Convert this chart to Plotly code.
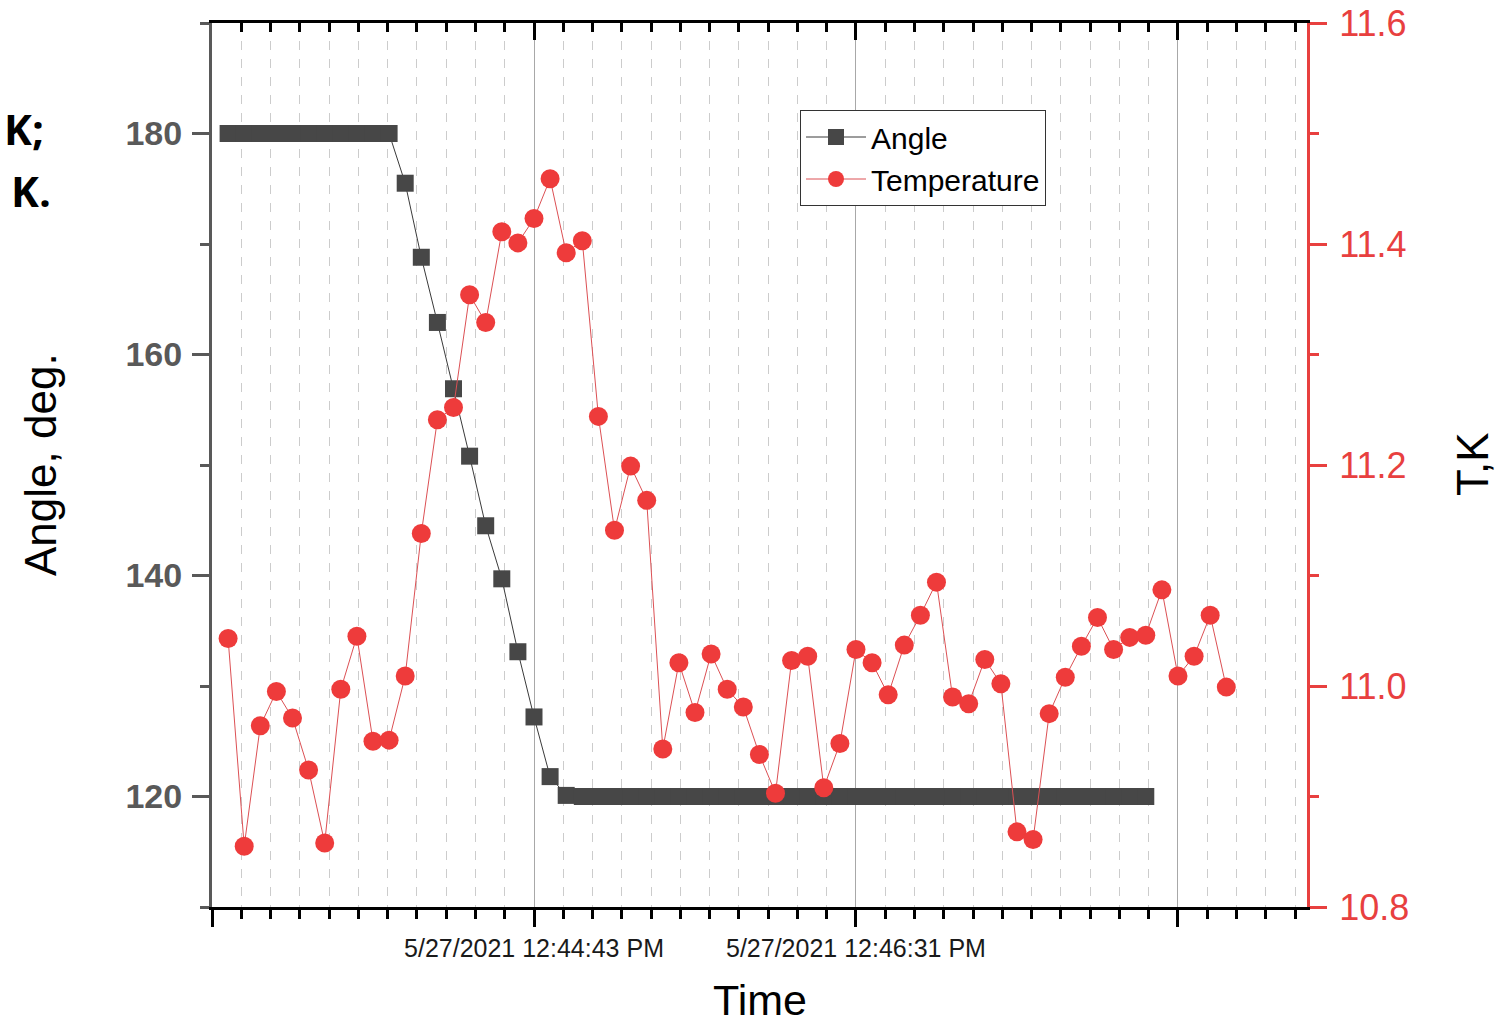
import plotly.graph_objects as go

# ---- data ----
time = [
    "2021-05-27 12:43:00.4", "2021-05-27 12:43:05.8", "2021-05-27 12:43:11.2", "2021-05-27 12:43:16.6",
    "2021-05-27 12:43:22.0", "2021-05-27 12:43:27.4", "2021-05-27 12:43:32.8", "2021-05-27 12:43:38.2",
    "2021-05-27 12:43:43.6", "2021-05-27 12:43:49.0", "2021-05-27 12:43:54.4", "2021-05-27 12:43:59.8",
    "2021-05-27 12:44:05.2", "2021-05-27 12:44:10.6", "2021-05-27 12:44:16.0", "2021-05-27 12:44:21.4",
    "2021-05-27 12:44:26.8", "2021-05-27 12:44:32.2", "2021-05-27 12:44:37.6", "2021-05-27 12:44:43.0",
    "2021-05-27 12:44:48.4", "2021-05-27 12:44:53.8", "2021-05-27 12:44:59.2", "2021-05-27 12:45:04.6",
    "2021-05-27 12:45:10.0", "2021-05-27 12:45:15.4", "2021-05-27 12:45:20.8", "2021-05-27 12:45:26.2",
    "2021-05-27 12:45:31.6", "2021-05-27 12:45:37.0", "2021-05-27 12:45:42.4", "2021-05-27 12:45:47.8",
    "2021-05-27 12:45:53.2", "2021-05-27 12:45:58.6", "2021-05-27 12:46:04.0", "2021-05-27 12:46:09.4",
    "2021-05-27 12:46:14.8", "2021-05-27 12:46:20.2", "2021-05-27 12:46:25.6", "2021-05-27 12:46:31.0",
    "2021-05-27 12:46:36.4", "2021-05-27 12:46:41.8", "2021-05-27 12:46:47.2", "2021-05-27 12:46:52.6",
    "2021-05-27 12:46:58.0", "2021-05-27 12:47:03.4", "2021-05-27 12:47:08.8", "2021-05-27 12:47:14.2",
    "2021-05-27 12:47:19.6", "2021-05-27 12:47:25.0", "2021-05-27 12:47:30.4", "2021-05-27 12:47:35.8",
    "2021-05-27 12:47:41.2", "2021-05-27 12:47:46.6", "2021-05-27 12:47:52.0", "2021-05-27 12:47:57.4",
    "2021-05-27 12:48:02.8", "2021-05-27 12:48:08.2", "2021-05-27 12:48:13.6", "2021-05-27 12:48:19.0",
    "2021-05-27 12:48:24.4", "2021-05-27 12:48:29.8", "2021-05-27 12:48:35.2",
]

angle = [
    180, 180, 180, 180, 180, 180, 180, 180, 180, 180, 180,
    175.5, 168.8, 162.9, 156.9, 150.8, 144.5, 139.7, 133.1, 127.2, 121.8, 120.1,
    120, 120, 120, 120, 120, 120, 120, 120, 120, 120, 120, 120, 120, 120, 120, 120, 120, 120,
    120, 120, 120, 120, 120, 120, 120, 120, 120, 120, 120, 120, 120, 120, 120, 120, 120, 120,
]
angle_time = time[:len(angle)]

temperature = [
    11.043, 10.855, 10.964, 10.995, 10.971, 10.924, 10.858, 10.997, 11.045, 10.950,
    10.951, 11.009, 11.138, 11.241, 11.252, 11.354, 11.329, 11.411, 11.401, 11.423,
    11.459, 11.392, 11.403, 11.244, 11.141, 11.199, 11.168, 10.943, 11.021, 10.976,
    11.029, 10.997, 10.981, 10.938, 10.903, 11.023, 11.027, 10.908, 10.948, 11.033,
    11.021, 10.992, 11.037, 11.064, 11.094, 10.990, 10.984, 11.024, 11.002, 10.868,
    10.861, 10.975, 11.008, 11.036, 11.062, 11.033, 11.044, 11.046, 11.087, 11.009,
    11.027, 11.064, 10.999,
]

x_range = ["2021-05-27 12:42:55", "2021-05-27 12:49:02.27"]
x_tickvals = ["2021-05-27 12:42:55", "2021-05-27 12:44:43", "2021-05-27 12:46:31", "2021-05-27 12:48:19"]
x_ticktext = ["", "5/27/2021 12:44:43 PM", "5/27/2021 12:46:31 PM", ""]
x_minor_step_ms = 108000 / 11

angle_ticks = [120, 140, 160, 180]
temp_ticks = [10.8, 11.0, 11.2, 11.4, 11.6]

RED = "#E8403F"
AXGRAY = "#595959"
FONT = "Liberation Sans"

fig = go.Figure()
fig.add_trace(go.Scatter(
    x=angle_time, y=angle, name="Angle", mode="lines+markers",
    marker=dict(symbol="square", size=17, color="#474747", line=dict(width=0)),
    line=dict(color="#3a3a3a", width=1),
    xaxis="x", yaxis="y",
))
fig.add_trace(go.Scatter(
    x=time, y=temperature, name="Temperature", mode="lines+markers",
    marker=dict(symbol="circle", size=19, color="#EE3B3B", line=dict(width=0)),
    line=dict(color="#DC5054", width=1),
    xaxis="x", yaxis="y2",
))
# invisible companion trace so the mirrored top axis is drawn
fig.add_trace(go.Scatter(
    x=time, y=temperature, mode="markers", marker=dict(opacity=0),
    showlegend=False, hoverinfo="skip", xaxis="x2", yaxis="y2",
))

W, H = 1512, 1028
L, R, T, B = 212, 1307, 23, 907
pw, ph = R - L, B - T


def px(x):
    return (x - L) / pw


def py(y):
    return (B - y) / ph


fig.update_layout(
    width=W, height=H, autosize=False,
    margin=dict(l=L, r=W - R, t=T, b=H - B, autoexpand=False),
    paper_bgcolor="white", plot_bgcolor="white",
    font=dict(family=FONT, color="black"),
    xaxis=dict(
        type="date", range=x_range, tickmode="array", tickvals=x_tickvals, ticktext=x_ticktext,
        ticks="outside", ticklen=17, tickwidth=3, tickcolor="black",
        showline=True, linecolor="black", linewidth=3,
        showgrid=True, gridcolor="#a8a8a8", gridwidth=1, zeroline=False,
        tickfont=dict(size=25, color="#1a1a1a", family=FONT),
        automargin=False,
        minor=dict(tickmode="linear", tick0=x_tickvals[0], dtick=x_minor_step_ms,
                   ticks="outside", ticklen=9, tickwidth=3, tickcolor="black",
                   showgrid=True, gridcolor="#cccccc", griddash="dash", gridwidth=1),
    ),
    xaxis2=dict(
        type="date", range=x_range, overlaying="x", side="top", anchor="y",
        tickmode="array", tickvals=x_tickvals, showticklabels=False,
        ticks="inside", ticklen=17, tickwidth=3, tickcolor="black",
        showline=True, linecolor="black", linewidth=3, showgrid=False, zeroline=False,
        automargin=False,
        minor=dict(tickmode="linear", tick0=x_tickvals[0], dtick=x_minor_step_ms,
                   ticks="inside", ticklen=9, tickwidth=3, tickcolor="black", showgrid=False),
    ),
    yaxis=dict(
        range=[110, 190], tickmode="array", tickvals=angle_ticks,
        ticks="outside", ticklen=17, tickwidth=3, tickcolor=AXGRAY,
        showline=True, linecolor=AXGRAY, linewidth=3, showgrid=False, zeroline=False,
        tickfont=dict(size=34, color=AXGRAY, family=FONT, weight="bold"),
        ticklabelstandoff=3, automargin=False,
        minor=dict(tickmode="linear", tick0=110, dtick=10, ticks="outside", ticklen=9,
                   tickwidth=3, tickcolor=AXGRAY, showgrid=False),
    ),
    yaxis2=dict(
        range=[10.8, 11.6], overlaying="y", side="right", anchor="x",
        tickmode="array", tickvals=temp_ticks, tickformat=".1f",
        ticks="outside", ticklen=17, tickwidth=3, tickcolor=RED,
        showline=True, linecolor=RED, linewidth=3, showgrid=False, zeroline=False,
        tickfont=dict(size=36, color=RED, family=FONT),
        ticklabelstandoff=5, automargin=False,
        minor=dict(tickmode="linear", tick0=10.8, dtick=0.1, ticks="outside", ticklen=9,
                   tickwidth=3, tickcolor=RED, showgrid=False),
    ),
    legend=dict(
        x=px(800), y=py(110), xanchor="left", yanchor="top",
        bgcolor="white", bordercolor="#333333", borderwidth=1,
        font=dict(size=30, family=FONT, color="black"), tracegroupgap=0,
        itemwidth=60,
    ),
    showlegend=True,
    annotations=[
        dict(text="Angle, deg.", x=px(40), y=py(465), xref="paper", yref="paper",
             textangle=-90, showarrow=False, xanchor="center", yanchor="middle",
             font=dict(size=44, family=FONT, color="black")),
        dict(text="T,K", x=px(1472), y=py(464), xref="paper", yref="paper",
             textangle=-90, showarrow=False, xanchor="center", yanchor="middle",
             font=dict(size=44, family=FONT, color="black")),
        dict(text="Time", x=px(760), y=py(1000), xref="paper", yref="paper",
             showarrow=False, xanchor="center", yanchor="middle",
             font=dict(size=43, family=FONT, color="black")),
        dict(text="K;", x=px(2), y=py(128), xref="paper", yref="paper",
             showarrow=False, xanchor="left", yanchor="middle",
             font=dict(size=42, family="Open Sans", color="black", weight="bold")),
        dict(text="K.", x=px(9), y=py(190), xref="paper", yref="paper",
             showarrow=False, xanchor="left", yanchor="middle",
             font=dict(size=42, family="Open Sans", color="black", weight="bold")),
    ],
)

fig.write_html("out.html", config={"displayModeBar": False},
               post_script="document.body.style.margin='0';")
